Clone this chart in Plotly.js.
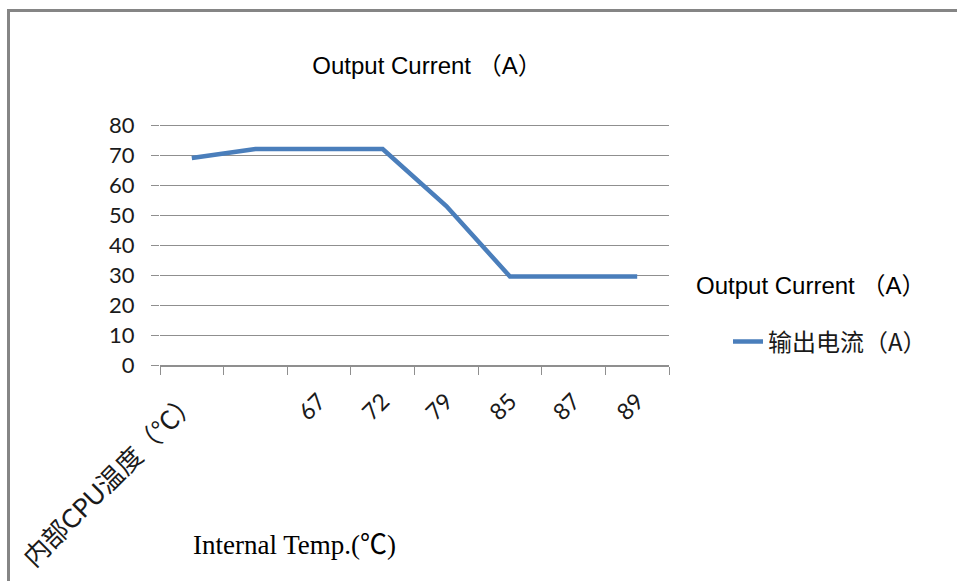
<!DOCTYPE html>
<html>
<head>
<meta charset="utf-8">
<script src="https://cdn.plot.ly/plotly-3.0.1.min.js"></script>
<style>
  html, body { margin: 0; padding: 0; background: #fff; }
  #wrap { position: relative; width: 957px; height: 581px; overflow: hidden; }
  #chart { position: absolute; left: 0; top: 0; width: 957px; height: 581px; }
  #frame { position: absolute; left: 7px; top: 9px; width: 960px; height: 600px;
           border-top: 3px solid #858585; border-left: 3px solid #858585; pointer-events: none; }
</style>
</head>
<body>
<div id="wrap">
  <div id="chart"></div>
  <div id="frame"></div>
</div>
<script>
// Data
const categories = ["内部CPU温度（℃）", " ", "67", "72", "79", "85", "87", "89"];
const currentA = [69, 72, 72, 72, 53, 29.5, 29.5, 29.5];
const yTickValues = [0, 10, 20, 30, 40, 50, 60, 70, 80];
const seriesName = "输出电流（A）";
const chartTitle = "Output Current （A）";
const legendTitle = "Output Current （A）";
const xTitle = "Internal Temp.(℃)";

const cjk = "'Noto Sans CJK SC'";
const xTickText = categories.map((c, i) =>
  i === 0 ? '<span style="font-size:26px">' + c + '</span>' : c);

const trace = {
  type: "scatter",
  mode: "lines",
  x: categories,
  y: currentA,
  name: seriesName,
  line: { color: "#4A7EBB", width: 4.5 },
  hoverinfo: "x+y"
};

const layout = {
  width: 957,
  height: 581,
  margin: { l: 160, r: 288, t: 122, b: 216 },
  paper_bgcolor: "#ffffff",
  plot_bgcolor: "#ffffff",
  showlegend: true,
  title: {
    text: chartTitle,
    font: { family: "'Liberation Sans', Arial, " + cjk, size: 24, color: "#000" },
    x: 427 / 957, xref: "container", xanchor: "center",
    y: 1 - 66 / 581, yref: "container", yanchor: "middle"
  },
  xaxis: {
    type: "category",
    range: [-0.5, 7.5],
    tickson: "boundaries",
    tickmode: "array",
    tickvals: categories,
    ticktext: xTickText,
    ticks: "outside",
    ticklen: 8,
    tickcolor: "#8f8f8f",
    tickwidth: 1,
    showline: true,
    linecolor: "#8f8f8f",
    linewidth: 1.5,
    showgrid: false,
    tickangle: -45,
    ticklabelstandoff: 12,
    tickfont: { family: "Lato, " + cjk, size: 23, color: "#1a1a1a" },
    fixedrange: true
  },
  yaxis: {
    range: [0, 81],
    tickvals: yTickValues,
    ticks: "outside",
    ticklen: 8,
    tickcolor: "#8f8f8f",
    showline: false,
    showgrid: true,
    gridcolor: "#8f8f8f",
    gridwidth: 1,
    zeroline: false,
    ticklabelstandoff: 12,
    tickfont: { family: "Lato, " + cjk, size: 22, color: "#1a1a1a" },
    fixedrange: true
  },
  legend: {
    x: (728 - 160) / 509,
    xanchor: "left",
    y: (365 - 342) / 243,
    yanchor: "middle",
    bgcolor: "rgba(0,0,0,0)",
    font: { family: cjk, size: 24, color: "#1a1a1a" }
  },
  annotations: [
    {
      text: legendTitle,
      xref: "paper", yref: "paper",
      x: (810 - 160) / 509, y: (365 - 285) / 243,
      xanchor: "center", yanchor: "middle",
      showarrow: false,
      font: { family: "'Liberation Sans', Arial, " + cjk, size: 24, color: "#000" }
    },
    {
      text: xTitle,
      xref: "paper", yref: "paper",
      x: (294 - 160) / 509, y: (365 - 545) / 243,
      xanchor: "center", yanchor: "middle",
      showarrow: false,
      font: { family: "'Liberation Serif', 'Times New Roman', " + cjk, size: 27, color: "#000" }
    }
  ]
};

Plotly.newPlot("chart", [trace], layout, { displayModeBar: false });
</script>
</body>
</html>
